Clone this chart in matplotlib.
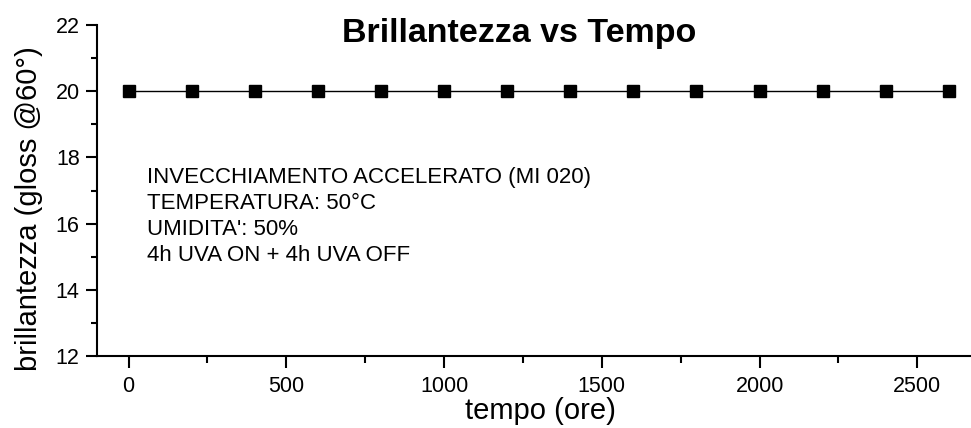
import numpy as np
import matplotlib
matplotlib.use("Agg")
import matplotlib.pyplot as plt
from matplotlib.ticker import MultipleLocator

plt.rcParams['font.family'] = ['Liberation Sans', 'DejaVu Sans']

tempo = [0, 200, 400, 600, 800, 1000, 1200, 1400, 1600, 1800, 2000, 2200, 2400, 2600]
brillantezza = [20, 20, 20, 20, 20, 20, 20, 20, 20, 20, 20, 20, 20, 20]

note = ["INVECCHIAMENTO ACCELERATO (MI 020)",
        "TEMPERATURA: 50°C",
        "UMIDITA': 50%",
        "4h UVA ON + 4h UVA OFF"]

fig = plt.figure(figsize=(9.71, 4.28), dpi=100)
ax = fig.add_axes([0.0999, 0.168, 0.9001, 0.7736])

ax.plot(tempo, brillantezza, color='black', lw=1, marker='s', ms=8.3,
        mfc='black', mec='black')

ax.set_xlim(-100, 2670)
ax.set_ylim(12, 22)
ax.xaxis.set_major_locator(MultipleLocator(500))
ax.xaxis.set_minor_locator(MultipleLocator(250))
ax.yaxis.set_major_locator(MultipleLocator(2))
ax.yaxis.set_minor_locator(MultipleLocator(1))

for s in ['top', 'right']:
    ax.spines[s].set_visible(False)
for s in ['left', 'bottom']:
    ax.spines[s].set_linewidth(1.5)

ax.tick_params(which='major', direction='out', length=8, width=1.5, labelsize=15.5)
ax.tick_params(axis='x', which='major', length=8.5, pad=6)
ax.tick_params(axis='y', which='major', pad=4.5)
ax.tick_params(axis='x', which='minor', direction='out', length=5, width=1.5)
ax.tick_params(axis='y', which='minor', direction='out', length=4, width=1.5)

ax.set_xlabel("tempo (ore)", fontsize=21)
ax.xaxis.set_label_coords(0.507, -0.125)
ax.set_ylabel("brillantezza (gloss @60°)", fontsize=21)
ax.yaxis.set_label_coords(-0.062, 0.444)

fig.text(0.535, 0.922, "Brillantezza vs Tempo", fontsize=24.5, fontweight='bold',
         ha='center', va='center')

ax.text(60, 17.7, "\n".join(note), fontsize=16, ha='left', va='top',
        linespacing=1.3)

fig.savefig("out.png", dpi=100)
